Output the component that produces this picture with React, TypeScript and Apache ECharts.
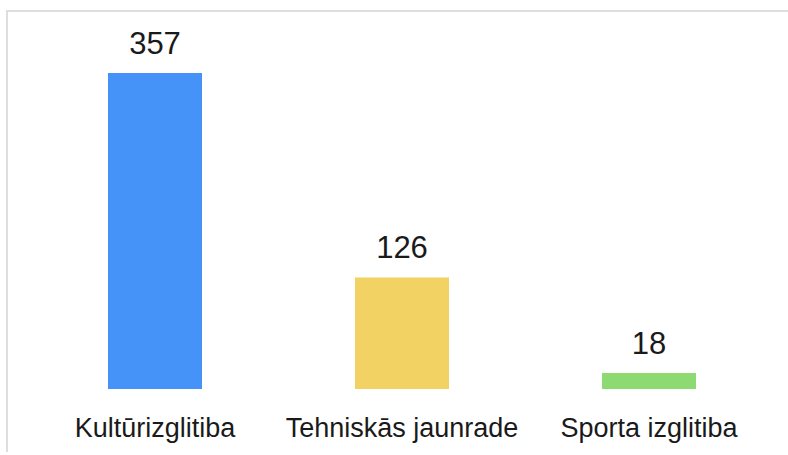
import React, { useEffect, useRef } from "react";
import * as echarts from "echarts";

const categories = ["Kultūrizglitiba", "Tehniskās jaunrade", "Sporta izglitiba"];
const values = [357, 126, 18];
const barColors = ["#4593F8", "#F1D263", "#8DDA73"];

export default function App() {
  const ref = useRef<HTMLDivElement>(null);
  useEffect(() => {
    if (!ref.current) return;
    const chart = echarts.init(ref.current, undefined, { renderer: "svg" });
    chart.setOption({
      animation: false,
      backgroundColor: "#ffffff",
      grid: { left: 31.5, right: 15.5, top: 35, bottom: 66 },
      xAxis: {
        type: "category",
        data: categories,
        axisLine: { show: false },
        axisTick: { show: false },
        axisLabel: {
          interval: 0,
          color: "#1a1a1a",
          fontSize: 27,
          fontFamily: "Liberation Sans, Arial, sans-serif",
          margin: 25,
        },
      },
      yAxis: {
        type: "value",
        min: 0,
        max: 400,
        show: false,
        splitLine: { show: false },
      },
      series: [
        {
          type: "bar",
          barWidth: 94,
          data: values.map((v, i) => ({ value: v, itemStyle: { color: barColors[i] } })),
          label: {
            show: true,
            position: "top",
            distance: 14,
            color: "#1a1a1a",
            fontSize: 31,
            fontFamily: "Liberation Sans, Arial, sans-serif",
          },
        },
      ],
      graphic: [
        {
          type: "line",
          shape: { x1: 6, y1: 11, x2: 788, y2: 11 },
          style: { stroke: "#dedede", lineWidth: 2 },
        },
        {
          type: "line",
          shape: { x1: 7, y1: 10, x2: 7, y2: 452 },
          style: { stroke: "#dedede", lineWidth: 2 },
        },
      ],
    });
    return () => chart.dispose();
  }, []);
  return (
    <div
      ref={ref}
      style={{ position: "absolute", left: 0, top: 0, width: 788, height: 455 }}
    />
  );
}
